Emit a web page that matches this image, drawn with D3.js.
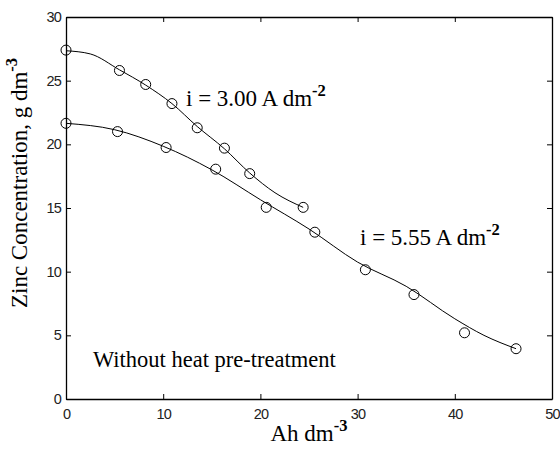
<!DOCTYPE html>
<html>
<head>
<meta charset="utf-8">
<script src="https://cdn.jsdelivr.net/npm/d3@7"></script>
<style>
  html, body { margin: 0; padding: 0; background: #fff; }
  svg { display: block; }
</style>
</head>
<body>
<div id="chart"></div>
<script>
// measured points, i = 3.00 A dm^-2
const ahLow = [0, 5.5, 8.2, 10.9, 13.5, 16.3, 18.9, 24.4];
const znLow = [27.4, 25.8, 24.7, 23.2, 21.3, 19.7, 17.7, 15.05];
// measured points, i = 5.55 A dm^-2
const ahHigh = [0, 5.3, 10.3, 15.4, 20.6, 25.6, 30.8, 35.8, 41.0, 46.3];
const znHigh = [21.65, 21.0, 19.75, 18.05, 15.05, 13.1, 10.15, 8.2, 5.2, 3.95];

// fitted curves
const fitLowX = [0, 2.5, 5.5, 8.2, 10.9, 13.5, 16.3, 18.9, 21.5, 24.4];
const fitLowY = [27.35, 27.1, 25.85, 24.65, 23.2, 21.4, 19.65, 17.75, 16.2, 15.05];
const fitHighX = [0, 5, 10, 15, 20, 25, 30, 35, 40, 43, 46.3];
const fitHighY = [21.65, 21.15, 19.85, 18.0, 15.65, 13.35, 10.75, 8.85, 6.3, 5.0, 3.95];

const xTicks = [0, 10, 20, 30, 40, 50];
const yTicks = [0, 5, 10, 15, 20, 25, 30];

const W = 560, H = 449;
const M = { left: 66, right: 8, top: 17, bottom: 50 };

const svg = d3.select('#chart').append('svg')
  .attr('width', W).attr('height', H)
  .attr('viewBox', `0 0 ${W} ${H}`);

const x = d3.scaleLinear().domain([0, 50]).range([M.left, W - M.right]);
const y = d3.scaleLinear().domain([0, 30]).range([H - M.bottom, M.top]);

const SANS = "'Liberation Sans', Arial, sans-serif";
const SERIF = "'Liberation Serif', 'Times New Roman', serif";
const TICK = 5;

// Axes: MATLAB style box, ticks pointing in
const axB = svg.append('g').attr('transform', `translate(0,${y(0)})`)
  .call(d3.axisBottom(x).tickValues(xTicks).tickSizeInner(-TICK).tickSizeOuter(0).tickPadding(10));
const axL = svg.append('g').attr('transform', `translate(${x(0)},0)`)
  .call(d3.axisLeft(y).tickValues(yTicks).tickSizeInner(-TICK).tickSizeOuter(0).tickPadding(5));
const axT = svg.append('g').attr('transform', `translate(0,${y(30)})`)
  .call(d3.axisTop(x).tickValues(xTicks).tickSizeInner(-TICK).tickSizeOuter(0).tickFormat(''));
const axR = svg.append('g').attr('transform', `translate(${x(50)},0)`)
  .call(d3.axisRight(y).tickValues(yTicks).tickSizeInner(-TICK).tickSizeOuter(0).tickFormat(''));

[axB, axL, axT, axR].forEach(a => {
  a.select('.domain').attr('stroke', '#000').attr('stroke-width', 1.3);
  a.selectAll('.tick line').attr('stroke', '#000').attr('stroke-width', 1);
  a.selectAll('.tick text')
    .attr('font-family', SANS).attr('font-size', 14.5)
    .attr('letter-spacing', -0.8).attr('fill', '#222');
});

// Fitted curves
const line = d3.line().x(d => x(d[0])).y(d => y(d[1])).curve(d3.curveMonotoneX);
const curves = [d3.zip(fitLowX, fitLowY), d3.zip(fitHighX, fitHighY)];
svg.append('g').selectAll('path').data(curves).enter().append('path')
  .attr('d', line)
  .attr('fill', 'none')
  .attr('stroke', '#000')
  .attr('stroke-width', 1);

// Markers
const pts = d3.zip(ahLow, znLow).concat(d3.zip(ahHigh, znHigh));
svg.append('g').selectAll('circle').data(pts).enter().append('circle')
  .attr('cx', d => x(d[0]))
  .attr('cy', d => y(d[1]))
  .attr('r', 5)
  .attr('fill', 'none')
  .attr('stroke', '#000')
  .attr('stroke-width', 1);

// Text with superscript helper
function supText(g, base, sup, fs) {
  const t = g.append('text')
    .attr('font-family', SERIF).attr('font-size', fs).attr('fill', '#000');
  t.append('tspan').text(base);
  t.append('tspan').text(sup).attr('font-size', fs * 0.72)
    .attr('font-weight', 'bold').attr('dy', -fs * 0.42);
  return t;
}

supText(svg, 'i = 3.00 A dm', '-2', 23).attr('x', 186).attr('y', 106);
supText(svg, 'i = 5.55 A dm', '-2', 23).attr('x', 360).attr('y', 245);

svg.append('text')
  .attr('x', 93).attr('y', 367)
  .attr('font-family', SERIF).attr('font-size', 22.5).attr('fill', '#000')
  .text('Without heat pre-treatment');

// axis titles
supText(svg, 'Ah dm', '-3', 23).attr('x', 309).attr('y', 441).attr('text-anchor', 'middle');

const yt = supText(svg.append('g').attr('transform', 'translate(27,183) rotate(-90)'),
  'Zinc Concentration, g dm', '-3', 23);
yt.attr('text-anchor', 'middle');
</script>
</body>
</html>
